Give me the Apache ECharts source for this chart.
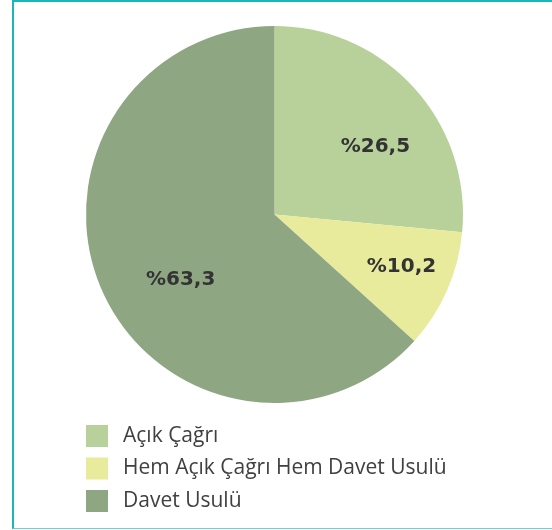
<!DOCTYPE html>
<html>
<head>
<meta charset="utf-8">
<script src="https://cdn.jsdelivr.net/npm/echarts@6/dist/echarts.min.js"></script>
<style>
  html, body { margin: 0; padding: 0; background: #fff; }
  #frame {
    position: absolute; left: 12px; top: 0; width: 540px; height: 529px;
    border-top: 2px solid #1db6b6; border-left: 2px solid #1db6b6; border-bottom: 1px solid #6ad2d2;
    box-sizing: border-box;
  }
  #chart { position: absolute; left: 0; top: 0; width: 552px; height: 530px; }
</style>
</head>
<body>
<div id="frame"></div>
<div id="chart"></div>
<script>
const categories = ['Açık Çağrı', 'Hem Açık Çağrı Hem Davet Usulü', 'Davet Usulü']
const shares = [26.5, 10.2, 63.3]
const colors = ['#b8d19a', '#e8eb9c', '#8fa683']
// label nudges from the default inner position, per slice
const labelShift = [[29, -2], [38, 13], [-5, 26]]

const chart = echarts.init(document.getElementById('chart'))

chart.setOption({
  animation: false,
  color: colors,
  legend: {
    orient: 'vertical',
    left: 81,
    top: 420,
    icon: 'rect',
    itemWidth: 22,
    itemHeight: 22,
    itemGap: 10.5,
    textStyle: { fontFamily: 'Open Sans', fontSize: 21, color: '#404040', padding: [0, 0, 0, 10] },
    data: categories,
  },
  series: [{
    type: 'pie',
    center: [274.5, 214.5],
    radius: [0, 188.5],
    startAngle: 90,
    clockwise: true,
    label: {
      position: 'inner',
      fontFamily: 'DejaVu Sans',
      fontWeight: 'bold',
      fontSize: 20,
      color: '#333',
      formatter: (p) => '%' + p.value.toFixed(1).replace('.', ','),
    },
    labelLine: { show: false },
    labelLayout: (p) => ({ dx: labelShift[p.dataIndex][0], dy: labelShift[p.dataIndex][1] }),
    emphasis: { disabled: true },
    data: categories.map((name, i) => ({ name, value: shares[i] })),
  }],
})
</script>
</body>
</html>
